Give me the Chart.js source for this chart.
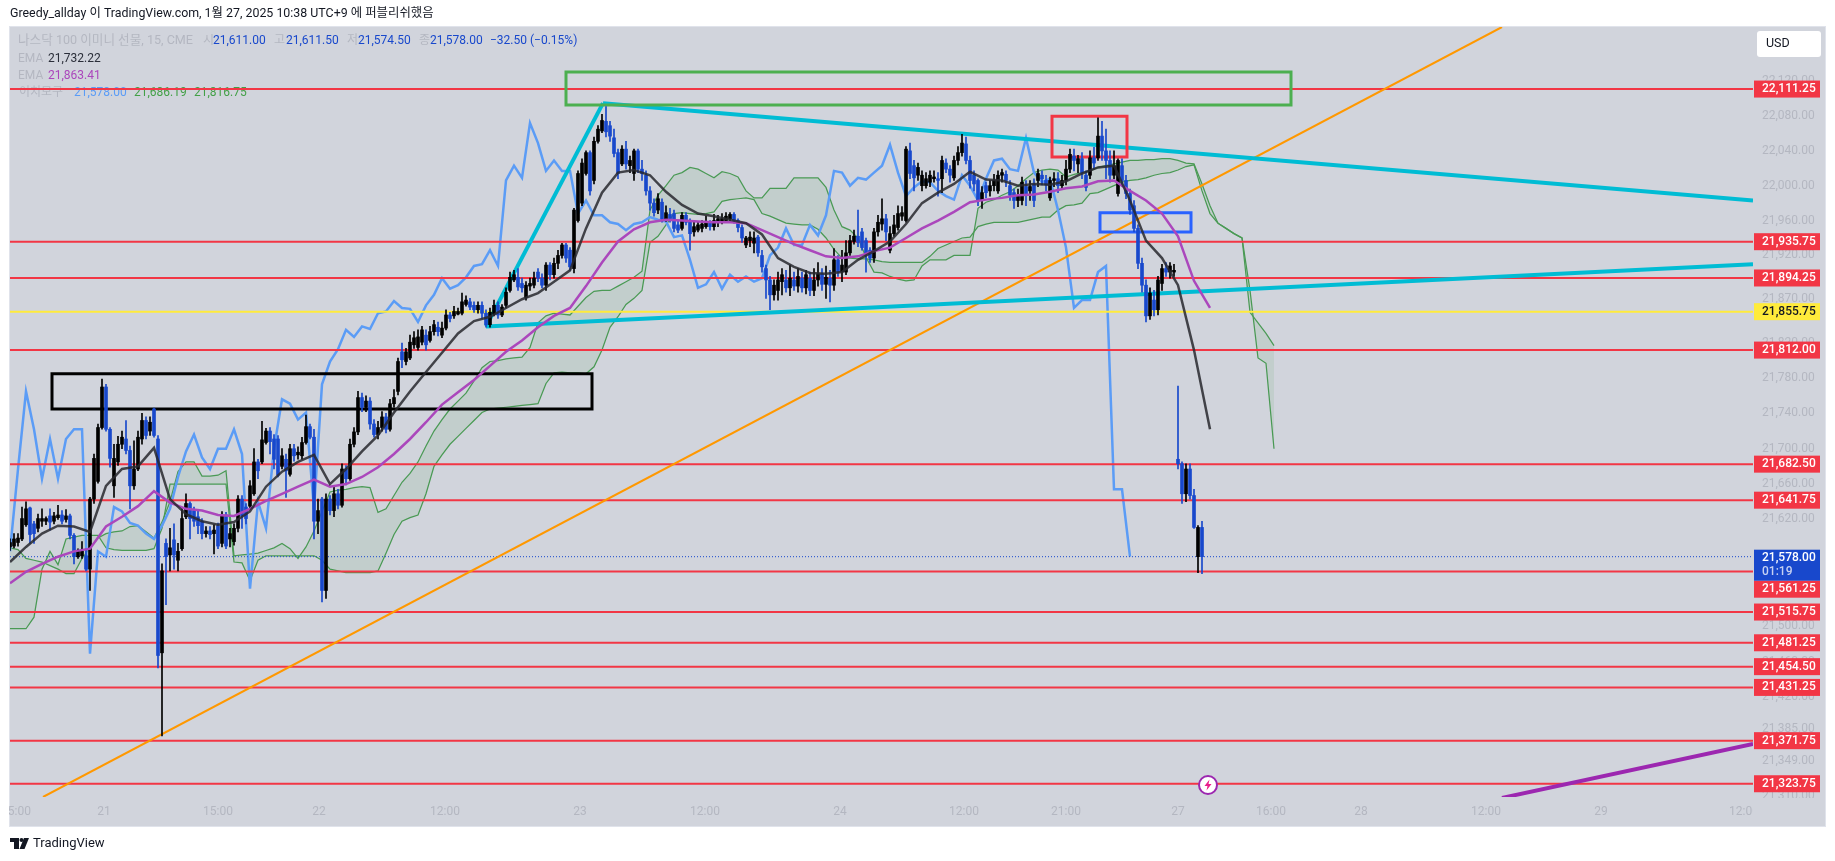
<!DOCTYPE html>
<html>
<head>
<meta charset="utf-8">
<style>
  html, body { margin: 0; padding: 0; background: #fff; }
  canvas { display: block; }
</style>
<script src="https://cdn.jsdelivr.net/npm/chart.js@4"></script>
</head>
<body>
<canvas id="chart" width="1835" height="861"></canvas>
<script>
// candles, one per x slot
var opens = [21589,21590,21594,21598,21614,21633,21615,21610,21618,21618,
21624,21618,21622,21625,21620,21624,21602,21578,21579,21579,
21564,21643,21663,21724,21770,21722,21658,21685,21705,21711,
21698,21658,21677,21711,21732,21720,21745,21711,21470,21593,
21580,21597,21574,21587,21623,21638,21630,21623,21618,21604,
21607,21604,21613,21593,21625,21598,21595,21610,21643,21634,
21635,21649,21685,21685,21707,21720,21711,21711,21680,21688,
21671,21700,21693,21692,21707,21725,21713,21618,21643,21540,
21643,21630,21649,21636,21677,21666,21705,21719,21758,21747,
21754,21728,21716,21724,21736,21722,21751,21765,21810,21799,
21803,21818,21815,21821,21829,21823,21833,21838,21829,21837,
21852,21851,21853,21854,21864,21867,21863,21858,21863,21854,
21841,21853,21863,21852,21863,21880,21892,21895,21888,21872,
21885,21886,21901,21894,21886,21909,21898,21911,21920,21932,
21926,21905,21960,21980,22014,22038,22006,22051,22063,22074,
22069,22055,22038,22025,22042,22023,22014,22040,22019,22012,
21994,21980,21972,21981,21962,21967,21968,21955,21951,21966,
21958,21947,21949,21951,21953,21957,21953,21958,21958,21960,
21962,21967,21960,21952,21932,21937,21934,21941,21920,21905,
21892,21875,21880,21890,21892,21883,21892,21885,21894,21883,
21894,21880,21892,21899,21887,21894,21886,21915,21901,21901,
21923,21936,21942,21947,21937,21926,21917,21947,21956,21962,
21926,21945,21952,21965,21960,22040,22023,22012,22000,22000,
22004,22008,22008,22008,22026,22019,22009,22029,22038,22048,
22029,22012,22006,21983,22000,21994,22000,21994,22012,22013,
22000,21992,21983,21983,21999,21994,22002,22006,22012,22006,
21986,22006,22008,22000,22006,22019,22034,22025,22031,22012,
22012,22032,22032,22057,22040,22029,22012,21991,22023,22006,
21991,21977,21951,21911,21886,21851,21869,21858,21888,21905,
21901,21901,21688,21683,21649,21677,21647,21578,21611];
var highs = [21598,21604,21604,21634,21640,21634,21618,21626,21632,21623,
21632,21628,21636,21630,21631,21626,21604,21587,21595,21587,
21645,21694,21728,21779,21773,21724,21705,21714,21720,21732,
21703,21709,21720,21740,21736,21736,21746,21715,21570,21598,
21610,21615,21593,21632,21649,21640,21634,21630,21621,21612,
21612,21614,21616,21629,21628,21610,21615,21647,21647,21638,
21664,21700,21688,21731,21723,21724,21716,21715,21700,21694,
21705,21705,21702,21713,21738,21728,21722,21643,21645,21649,
21647,21657,21654,21683,21681,21711,21724,21765,21763,21760,
21758,21733,21731,21742,21740,21756,21767,21803,21820,21814,
21829,21833,21835,21839,21835,21839,21846,21844,21844,21858,
21855,21862,21860,21877,21874,21871,21867,21867,21867,21858,
21860,21869,21867,21864,21883,21901,21903,21905,21894,21890,
21894,21901,21905,21899,21912,21912,21917,21926,21934,21934,
21929,21974,22017,22031,22040,22040,22056,22069,22082,22091,
22074,22065,22042,22046,22051,22034,22042,22042,22029,22017,
21999,21985,21991,21985,21977,21974,21972,21960,21969,21969,
21962,21958,21958,21960,21965,21960,21967,21966,21968,21969,
21969,21969,21962,21955,21942,21947,21947,21943,21926,21909,
21896,21892,21901,21905,21903,21909,21901,21905,21901,21903,
21901,21905,21912,21905,21908,21903,21928,21920,21926,21937,
21943,21949,21972,21951,21940,21929,21951,21966,21985,21967,
21953,21966,21977,21976,22045,22049,22029,22026,22017,22015,
22017,22017,22015,22034,22031,22023,22034,22045,22059,22056,
22034,22017,22008,21999,22004,22006,22013,22017,22019,22017,
22006,21996,21996,22010,22006,22006,22008,22019,22017,22012,
22010,22015,22015,22012,22029,22042,22042,22035,22038,22017,
22040,22044,22078,22074,22065,22040,22040,22031,22031,22012,
21996,21983,21955,21917,21892,21883,21880,21896,21910,21912,
21912,21910,21771,21685,21683,21683,21654,21613,21618];
var lows = [21585,21588,21590,21596,21612,21593,21593,21606,21612,21614,
21608,21615,21620,21615,21617,21598,21570,21576,21576,21562,
21540,21638,21661,21722,21720,21679,21645,21681,21700,21694,
21632,21654,21675,21705,21711,21715,21713,21453,21377,21524,
21562,21564,21562,21585,21621,21598,21612,21604,21598,21600,
21598,21581,21587,21589,21587,21589,21591,21606,21610,21615,
21632,21647,21666,21683,21705,21694,21677,21668,21677,21645,
21669,21686,21688,21688,21705,21711,21598,21604,21527,21531,
21625,21623,21632,21634,21659,21664,21702,21716,21742,21742,
21722,21713,21711,21720,21718,21720,21747,21761,21792,21795,
21801,21814,21812,21818,21812,21821,21829,21828,21826,21835,
21844,21848,21852,21852,21862,21858,21855,21854,21848,21838,
21838,21851,21848,21850,21860,21878,21890,21880,21878,21869,
21880,21883,21890,21883,21880,21892,21894,21905,21917,21912,
21903,21900,21958,21977,22012,21989,22002,22049,22061,22056,
22051,22033,22008,22023,22019,22015,22006,22015,22006,21989,
21972,21965,21968,21958,21959,21958,21947,21946,21949,21955,
21926,21942,21947,21947,21951,21949,21949,21953,21956,21958,
21958,21957,21947,21935,21929,21930,21923,21919,21901,21871,
21858,21869,21869,21875,21878,21874,21880,21878,21878,21876,
21874,21874,21885,21880,21871,21867,21880,21896,21890,21898,
21920,21933,21930,21926,21901,21912,21912,21942,21949,21937,
21923,21942,21949,21960,21958,22008,21994,22006,21994,21997,
21999,22004,21988,21992,22015,22004,22006,22024,22034,22025,
21997,21994,21977,21974,21986,21988,21994,21991,22004,21999,
21983,21974,21976,21978,21977,21983,21976,21999,22001,21994,
21983,21999,21992,21997,22001,22015,22017,22015,22008,21994,
22008,22019,22029,22029,22008,22004,22008,21988,21999,21985,
21967,21947,21905,21878,21844,21847,21851,21852,21880,21896,
21894,21896,21677,21638,21640,21643,21610,21560,21559];
var closes = [21594,21598,21599,21621,21632,21603,21604,21621,21621,21621,
21617,21624,21625,21618,21624,21602,21578,21584,21584,21564,
21643,21689,21724,21770,21722,21689,21689,21705,21713,21698,
21658,21677,21713,21732,21715,21730,21715,21467,21562,21578,
21588,21580,21584,21621,21638,21621,21618,21613,21604,21607,
21603,21608,21590,21624,21590,21604,21610,21643,21624,21621,
21658,21685,21675,21710,21720,21708,21688,21670,21692,21675,
21700,21692,21696,21707,21725,21713,21618,21630,21540,21643,
21630,21649,21636,21677,21666,21705,21719,21758,21747,21754,
21728,21716,21724,21736,21722,21751,21758,21799,21801,21810,
21821,21826,21827,21835,21818,21833,21841,21833,21837,21852,
21848,21856,21856,21867,21869,21861,21858,21863,21854,21841,
21855,21863,21852,21861,21878,21895,21898,21884,21883,21886,
21888,21894,21894,21886,21909,21898,21911,21920,21932,21917,
21907,21972,22014,22026,22038,21994,22051,22065,22075,22062,
22057,22037,22014,22042,22025,22029,22040,22019,22014,21994,
21980,21969,21985,21962,21969,21962,21951,21949,21966,21958,
21945,21953,21955,21956,21959,21953,21960,21962,21962,21965,
21967,21960,21952,21940,21940,21941,21940,21923,21907,21892,
21875,21886,21892,21898,21883,21894,21885,21896,21883,21898,
21880,21892,21899,21887,21895,21886,21915,21901,21909,21923,
21937,21942,21935,21929,21923,21917,21947,21958,21962,21947,
21945,21955,21968,21969,22042,22014,22009,22021,22012,22008,
22012,22010,22006,22029,22019,22012,22029,22038,22049,22029,
22006,22002,21983,21992,21992,22000,22006,22012,22015,22006,
21989,21983,21988,22004,21989,21999,21983,22014,22008,22001,
22006,22008,22000,22006,22019,22036,22029,22031,22015,21998,
22032,22026,22057,22040,22029,22012,22023,22029,22006,21991,
21972,21951,21911,21886,21851,21877,21858,21892,21905,21901,
21908,21903,21683,21649,21677,21647,21611,21611,21578];

// EMAs, one value every 4 slots
var emaFast = [21572,21589,21604,21613,21612,21606,21658,21677,21680,21701,21643,21626,21618,21614,21617,21629,
21657,21674,21685,21693,21660,21677,21697,21715,21741,21765,21787,21809,21831,21845,21850,21860,
21870,21877,21890,21903,21951,21992,22015,22018,22012,21993,21978,21968,21965,21961,21957,21944,
21917,21907,21900,21899,21901,21915,21925,21936,21956,21980,21992,22002,22016,22007,22006,22000,
22002,22001,22005,22014,22021,22023,21983,21937,21917,21886,21812,21722];
var emaSlow = [21548,21561,21570,21578,21584,21587,21612,21623,21635,21652,21639,21632,21630,21625,21624,21632,
21641,21649,21657,21665,21657,21660,21668,21679,21694,21711,21730,21750,21764,21778,21794,21810,
21823,21838,21851,21860,21885,21912,21936,21950,21958,21961,21960,21959,21958,21958,21957,21949,
21941,21933,21926,21919,21917,21919,21925,21929,21940,21951,21960,21970,21981,21984,21986,21989,
21990,21993,21997,21999,22005,22006,21994,21983,21968,21942,21891,21860];

// ichimoku, one value every 2 slots
var laggingSpan = [21584,21677,21765,21722,21666,21711,21666,21711,21722,21722,21469,21584,21578,21634,21629,21616,
21613,21604,21598,21613,21632,21668,21697,21716,21690,21677,21700,21700,21722,21694,21542,21640,
21610,21700,21756,21751,21733,21741,21632,21773,21799,21813,21835,21827,21839,21836,21854,21856,
21868,21860,21859,21844,21863,21875,21894,21882,21886,21895,21908,21910,21926,21908,22006,22023,
22009,22072,22049,22017,22029,22017,22017,21968,21983,21966,21966,21958,21956,21949,21956,21958,
21964,21961,21959,21941,21943,21915,21883,21887,21901,21882,21898,21890,21896,21890,21894,21920,
21929,21951,21932,21932,21955,21943,21966,22017,22015,22000,22009,22007,22015,22023,22047,22015,
21988,21998,22005,22004,21994,21988,21984,22012,22000,21983,22008,22029,22031,22019,22017,22055,
22015,22004,22008,21972,21929,21860,21869,21869,21901,21908,21654,21654,21578];
var spanA = [21588,21586,21576,21574,21572,21568,21564,21559,21559,21576,21588,21599,21604,21606,21607,21612,
21613,21606,21599,21617,21640,21674,21685,21685,21669,21669,21670,21675,21579,21580,21581,21582,
21585,21588,21593,21587,21576,21589,21607,21629,21651,21653,21654,21656,21657,21656,21628,21632,
21647,21662,21672,21685,21703,21720,21733,21745,21754,21763,21777,21792,21799,21800,21802,21803,
21804,21815,21843,21851,21854,21853,21852,21862,21872,21879,21880,21880,21885,21890,21895,21902,
21972,21989,22000,22012,22015,22021,22019,22014,22009,22016,22014,22010,21994,21986,21986,21997,
21997,21997,22009,22009,22009,22009,21998,21972,21953,21949,21940,21918,21901,21900,21896,21893,
21891,21892,21908,21915,21915,21915,21920,21920,21920,21974,21981,21984,21989,21993,22000,22008,
22015,22018,22019,22018,22010,22013,22015,22017,22021,22023,22025,22027,22029,22029,22030,22030,
22031,22031,22029,22026,22025,22002,21977,21957,21951,21945,21940,21855,21843,21831,21817];
var spanB = [21497,21497,21497,21510,21564,21584,21569,21598,21600,21602,21602,21602,21588,21586,21585,21585,
21585,21585,21587,21610,21660,21660,21660,21660,21660,21660,21660,21660,21572,21571,21551,21574,
21579,21579,21579,21579,21579,21579,21579,21574,21564,21562,21560,21560,21560,21560,21562,21582,
21603,21618,21622,21625,21649,21680,21693,21705,21714,21723,21732,21741,21745,21746,21747,21748,
21749,21750,21751,21774,21786,21787,21786,21786,21785,21793,21812,21838,21850,21864,21871,21880,
21935,21942,21955,21968,21969,21968,21967,21968,21970,21982,21984,21985,21986,21984,21968,21965,
21961,21957,21956,21955,21955,21950,21940,21927,21917,21917,21916,21916,21915,21913,21912,21912,
21912,21912,21912,21919,21928,21932,21936,21940,21941,21953,21956,21958,21958,21958,21958,21960,
21962,21964,21964,21972,21977,21978,21980,21991,21992,21996,22000,22004,22006,22007,22009,22012,
22014,22015,22018,22022,22024,21994,21968,21957,21951,21945,21940,21880,21803,21797,21700];

// horizontal levels drawn on the chart
var redLevels = [22111.25,21935.75,21894.25,21812,21682.5,21641.75,21561.25,21515.75,21481.25,21454.5,21431.25,21371.75,21323.75];
var yellowLevel = 21855.75;
var lastPrice = 21578;

// trend lines: [slot, price] ends
var cyanApex = [148.25, 22095];
var cyanBase = [119, 21839];
var cyanUpperEnd = [435.75, 21983];
var cyanLowerEnd = [435.75, 21910];
var orangeLine = [[8.25, 21309], [373, 22183]];
var purpleLine = [[373, 21308], [435.75, 21368]];

// boxes: x from, x to, price top, price bottom
var greenBox = [139, 320.25, 22131, 22093];
var blackBox = [10.5, 145.5, 21785, 21745];
var redBox = [260.5, 279.25, 22080, 22033];
var blueBox = [272.5, 295.25, 21969, 21947];

// axes
var yTicks = [22120,22080,22040,22000,21960,21920,21870,21820,21780,21740,21700,21660,21620,21500,21460,21420,21385,21349,21310];
var xTickSlots = [1.5,23.5,52,77.25,108.75,142.5,173.75,207.5,238.5,264,292,315.25,337.75,369,397.75,433.5];
var xTickLabels = ['15:00','21','15:00','22','12:00','23','12:00','24','12:00','21:00','27','16:00','28','12:00','29','12:00'];

var SLOT_MAX = 435.75;
var Y_MIN = 21309;
var Y_MAX = 22183;
var PANE_BG = '#d1d4dc';
var FONT = 'Roboto, "Noto Sans CJK KR", sans-serif';

function fmt(v) {
  return v.toLocaleString('en-US', { minimumFractionDigits: 2, maximumFractionDigits: 2 });
}

function series(values, step) {
  return values.map(function (v, i) {
    return { x: i * step, y: v };
  });
}

function lineSet(data, color, width, extra) {
  var ds = {
    type: 'line',
    data: data,
    borderColor: color,
    borderWidth: width,
    pointRadius: 0,
    tension: 0,
    fill: false
  };
  for (var k in extra) ds[k] = extra[k];
  return ds;
}

function level(price, color) {
  return lineSet([{ x: 0, y: price }, { x: SLOT_MAX, y: price }], color, 2);
}

function box(b, color) {
  return lineSet([
    { x: b[0], y: b[2] }, { x: b[1], y: b[2] }, { x: b[1], y: b[3] },
    { x: b[0], y: b[3] }, { x: b[0], y: b[2] }
  ], color, 3, { borderJoinStyle: 'miter', borderCapStyle: 'square' });
}

function seg(p1, p2, color, width) {
  return lineSet([{ x: p1[0], y: p1[1] }, { x: p2[0], y: p2[1] }], color, width);
}

function barSet(data, color, thickness) {
  return {
    type: 'bar',
    data: data,
    backgroundColor: color,
    borderWidth: 0,
    barThickness: thickness,
    minBarLength: 1,
    grouped: false
  };
}

var upBodies = [], downBodies = [], upWicks = [], downWicks = [];
opens.forEach(function (o, i) {
  var c = closes[i];
  var up = c >= o;
  (up ? upBodies : downBodies).push({ x: i, y: [Math.min(o, c), Math.max(o, c)] });
  (up ? upWicks : downWicks).push({ x: i, y: [lows[i], highs[i]] });
});

// first in the list is drawn on top
var datasets = [
  lineSet(series(emaFast, 4), 'rgba(40,40,46,0.85)', 2.5),
  lineSet(series(emaSlow, 4), '#ab47bc', 2.5),
  barSet(upBodies, '#000000', 3),
  barSet(downBodies, '#1848cc', 3),
  barSet(upWicks, '#000000', 1),
  barSet(downWicks, '#1848cc', 1),
  box(greenBox, '#4caf50'),
  box(blackBox, '#000000'),
  box(redBox, '#f23645'),
  box(blueBox, '#2962ff'),
  seg(cyanBase, cyanApex, '#00bcd4', 4),
  seg(cyanApex, cyanUpperEnd, '#00bcd4', 4),
  seg(cyanBase, cyanLowerEnd, '#00bcd4', 4),
  seg(orangeLine[0], orangeLine[1], '#ff9800', 2),
  seg(purpleLine[0], purpleLine[1], '#9c27b0', 4),
  lineSet([{ x: 0, y: lastPrice }, { x: SLOT_MAX, y: lastPrice }], '#1848cc', 1, { borderDash: [1, 2] }),
  level(yellowLevel, '#ffeb3b')
];
redLevels.forEach(function (p) {
  datasets.push(level(p, '#f23645'));
});
datasets.push(lineSet(series(laggingSpan, 2), '#5b9cf6', 2.5));
datasets.push(lineSet(series(spanA, 2), '#4a9a55', 1.25, {
  fill: { target: '+1', above: 'rgba(67,160,71,0.1)', below: 'rgba(67,160,71,0.1)' }
}));
datasets.push(lineSet(series(spanB, 2), '#4a9a55', 1.25));

function text(ctx, str, x, y, color, font) {
  ctx.fillStyle = color;
  ctx.font = font || ('12px ' + FONT);
  ctx.textAlign = 'left';
  ctx.textBaseline = 'middle';
  ctx.fillText(str, x, y);
}

function priceTag(ctx, label, y, bg, fg) {
  ctx.fillStyle = bg;
  ctx.fillRect(1754, y, 66, 17);
  text(ctx, label, 1762, y + 8.5, fg, '500 12px ' + FONT);
}

var paperPlugin = {
  id: 'paper',
  beforeDraw: function (chart) {
    var ctx = chart.ctx;
    ctx.save();
    ctx.fillStyle = '#ffffff';
    ctx.fillRect(0, 0, 1835, 861);
    ctx.fillStyle = PANE_BG;
    ctx.fillRect(10, 27, 1815, 799);
    ctx.strokeStyle = '#e0e3eb';
    ctx.strokeRect(9.5, 26.5, 1816, 800);
    ctx.restore();
  },
  beforeDatasetsDraw: function (chart) {
    var ctx = chart.ctx;
    var faint = '#b4b7c1';
    var blue = '#1848cc';
    ctx.save();
    text(ctx, 'Greedy_allday 이 TradingView.com, 1월 27, 2025 10:38 UTC+9 에 퍼블리쉬했음', 10, 14, '#131722', '12.4px ' + FONT);
    text(ctx, '나스닥 100 이미니 선물, 15, CME', 18, 41, faint, '12.6px ' + FONT);
    text(ctx, '시', 203, 41, faint);
    text(ctx, '21,611.00', 213, 41, blue);
    text(ctx, '고', 274, 41, faint);
    text(ctx, '21,611.50', 286, 41, blue);
    text(ctx, '저', 347, 41, faint);
    text(ctx, '21,574.50', 358, 41, blue);
    text(ctx, '종', 419, 41, faint);
    text(ctx, '21,578.00', 430, 41, blue);
    text(ctx, '−32.50 (−0.15%)', 490, 41, blue);
    text(ctx, 'EMA', 18, 59, faint);
    text(ctx, '21,732.22', 48, 59, '#2a2e39');
    text(ctx, 'EMA', 18, 76, faint);
    text(ctx, '21,863.41', 48, 76, '#ab47bc');
    text(ctx, '이치모구', 19, 93, faint);
    text(ctx, '21,578.00', 74, 93, '#5b9cf6');
    text(ctx, '21,686.19', 134, 93, '#43a047');
    text(ctx, '21,816.75', 194, 93, '#43a047');
    ctx.restore();
  },
  afterDraw: function (chart) {
    var ctx = chart.ctx;
    var y = chart.scales.y;
    ctx.save();
    // cut the time labels that run past the pane
    ctx.fillStyle = '#ffffff';
    ctx.fillRect(0, 797, 9, 30);
    ctx.fillStyle = PANE_BG;
    ctx.fillRect(1753, 798, 72, 27);

    // price column
    var lastY = y.getPixelForValue(lastPrice);
    var lastBottom = lastY - 7 + 31;
    redLevels.forEach(function (p) {
      var py = y.getPixelForValue(p) - 8.5;
      if (py < lastBottom && py + 17 > lastY - 7) py = lastBottom;
      priceTag(ctx, fmt(p), py, '#f23645', '#ffffff');
    });
    priceTag(ctx, fmt(yellowLevel), y.getPixelForValue(yellowLevel) - 8.5, '#ffeb3b', '#131722');
    ctx.fillStyle = '#1848cc';
    ctx.fillRect(1754, lastY - 7, 66, 31);
    text(ctx, fmt(lastPrice), 1762, lastY + 1.5, '#ffffff', '500 12px ' + FONT);
    text(ctx, '01:19', 1762, lastY + 15, '#c5d0f2', '500 12px ' + FONT);

    // currency button
    ctx.fillStyle = '#ffffff';
    ctx.beginPath();
    ctx.roundRect(1757, 31, 64, 26, 3);
    ctx.fill();
    text(ctx, 'USD', 1766, 44, '#131722', '12.5px ' + FONT);

    // lightning badge
    ctx.beginPath();
    ctx.arc(1208, 785, 9, 0, Math.PI * 2);
    ctx.fillStyle = '#ffffff';
    ctx.fill();
    ctx.lineWidth = 2;
    ctx.strokeStyle = '#9c27b0';
    ctx.stroke();
    ctx.fillStyle = '#e91e8c';
    ctx.beginPath();
    ctx.moveTo(1209.5, 779.5);
    ctx.lineTo(1204.5, 786);
    ctx.lineTo(1207.5, 786);
    ctx.lineTo(1206.5, 790.5);
    ctx.lineTo(1211.5, 784);
    ctx.lineTo(1208.5, 784);
    ctx.closePath();
    ctx.fill();

    // footer logo
    ctx.fillStyle = '#131722';
    ctx.fillRect(10, 838, 9, 4);
    ctx.fillRect(14, 838, 5, 11);
    ctx.beginPath();
    ctx.arc(21.5, 840, 2, 0, Math.PI * 2);
    ctx.fill();
    ctx.beginPath();
    ctx.moveTo(24, 838);
    ctx.lineTo(29, 838);
    ctx.lineTo(24.5, 849);
    ctx.lineTo(19.5, 849);
    ctx.closePath();
    ctx.fill();
    text(ctx, 'TradingView', 33, 844, '#131722', '13px ' + FONT);
    ctx.restore();
  }
};

new Chart(document.getElementById('chart'), {
  type: 'line',
  data: { datasets: datasets },
  plugins: [paperPlugin],
  options: {
    responsive: false,
    animation: false,
    events: [],
    layout: { padding: { left: 10, top: 27, right: 0, bottom: 0 } },
    plugins: {
      legend: { display: false },
      tooltip: { enabled: false },
      title: { display: false }
    },
    scales: {
      x: {
        type: 'linear',
        offset: false,
        min: 0,
        max: SLOT_MAX,
        border: { display: false },
        grid: { display: false, drawTicks: false },
        ticks: {
          autoSkip: false,
          maxRotation: 0,
          padding: 8,
          color: '#b4b7c1',
          font: { family: FONT, size: 12 },
          callback: function (value, index) { return xTickLabels[index]; }
        },
        afterBuildTicks: function (scale) {
          scale.ticks = xTickSlots.map(function (v) { return { value: v }; });
        },
        afterFit: function (scale) {
          scale.height = 64;
          scale.paddingLeft = 0;
          scale.paddingRight = 0;
        }
      },
      y: {
        type: 'logarithmic',
        position: 'right',
        min: Y_MIN,
        max: Y_MAX,
        border: { display: false },
        grid: { display: false, drawTicks: false },
        ticks: {
          autoSkip: false,
          padding: 9,
          color: '#b4b7c1',
          font: { family: FONT, size: 12 },
          callback: function (value) { return fmt(value); }
        },
        afterBuildTicks: function (scale) {
          scale.ticks = yTicks.map(function (v) { return { value: v }; });
        },
        afterFit: function (scale) {
          scale.width = 82;
          scale.paddingTop = 0;
          scale.paddingBottom = 0;
        }
      }
    }
  }
});
</script>
</body>
</html>
